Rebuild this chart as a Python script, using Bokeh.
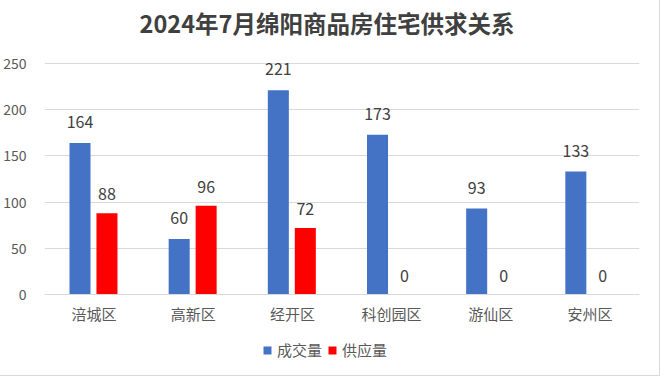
from bokeh.plotting import figure
from bokeh.models import ColumnDataSource, FactorRange, Legend, LegendItem, FixedTicker, Range1d
from bokeh.transform import dodge
from bokeh.core.properties import value
from bokeh.embed import file_html
from bokeh.resources import INLINE

categories = ["涪城区", "高新区", "经开区", "科创园区", "游仙区", "安州区"]
deals = [164, 60, 221, 173, 93, 133]
supply = [88, 96, 72, 0, 0, 0]
series_names = ["成交量", "供应量"]
title_text = "2024年7月绵阳商品房住宅供求关系"
y_ticks = [0, 50, 100, 150, 200, 250]

FONT = "Noto Sans CJK SC"
BLUE = "#4472C4"
RED = "#FF0000"

src = ColumnDataSource(dict(cat=categories, deals=deals, supply=supply,
                            deals_s=[str(v) for v in deals],
                            supply_s=[str(v) for v in supply]))

# layout in pixels: value axis 0..250 spans 231 px; frame extends 59 px above
# (title area) and 74 px below (axis labels and legend)
PX_PER_UNIT = 231 / 250
y_top = y_ticks[-1] + 59 / PX_PER_UNIT
y_bottom = -74 / PX_PER_UNIT
title_y = y_ticks[-1] + 41 / PX_PER_UNIT

p = figure(x_range=FactorRange(*categories, range_padding=0), y_range=Range1d(y_bottom, y_top),
           frame_width=595, frame_height=364, output_backend="svg", toolbar_location=None,
           min_border_left=44, min_border_right=18, min_border_top=4, min_border_bottom=5,
           stylesheets=[":host { outline: 1px solid #d9d9d9; outline-offset: 2px; }"])

r1 = p.vbar(x=dodge("cat", -0.142, range=p.x_range), top="deals", width=0.212, source=src,
            color=BLUE, line_color=None)
r2 = p.vbar(x=dodge("cat", 0.130, range=p.x_range), top="supply", width=0.212, source=src,
            color=RED, line_color=None)

p.text(x=dodge("cat", -0.142, range=p.x_range), y="deals", text="deals_s", source=src,
       text_align="center", text_baseline="middle", y_offset=-21,
       text_font=value(FONT), text_font_size="16px", text_color="#404040")
p.text(x=dodge("cat", 0.130, range=p.x_range), y="supply", text="supply_s", source=src,
       text_align="center", text_baseline="middle", y_offset=-19,
       text_font=value(FONT), text_font_size="16px", text_color="#404040")

# chart title, centred on the chart box
p.text(x=[len(categories) / 2], y=[title_y], text=[title_text], x_offset=-15,
       text_align="center", text_baseline="middle",
       text_font=value(FONT), text_font_size="23.5px", text_font_style="bold",
       text_color="#404040")

p.outline_line_color = None
p.background_fill_color = "white"
p.border_fill_color = "white"

p.xgrid.grid_line_color = None
p.ygrid.grid_line_color = "#d9d9d9"
p.ygrid.ticker = FixedTicker(ticks=y_ticks)
p.yaxis.ticker = FixedTicker(ticks=y_ticks)
p.yaxis.axis_line_color = None
p.yaxis.major_tick_line_color = None
p.yaxis.minor_tick_line_color = None
p.yaxis.major_label_text_font = FONT
p.yaxis.major_label_text_font_size = "14px"
p.yaxis.major_label_text_color = "#595959"
p.yaxis.major_label_standoff = 12

p.xaxis.fixed_location = 0
p.xaxis.axis_line_color = "#d9d9d9"
p.xaxis.major_tick_line_color = None
p.xaxis.minor_tick_line_color = None
p.xaxis.major_label_text_font = FONT
p.xaxis.major_label_text_font_size = "15px"
p.xaxis.major_label_text_color = "#595959"
p.xaxis.major_label_standoff = 2

legend = Legend(items=[LegendItem(label=series_names[0], renderers=[r1]),
                       LegendItem(label=series_names[1], renderers=[r2])],
                orientation="horizontal", location=(218, 8),
                label_text_font=FONT, label_text_font_size="15px", label_text_color="#595959",
                glyph_width=10, glyph_height=10, label_standoff=5, spacing=5,
                border_line_color=None, background_fill_alpha=0, padding=0, margin=0)
p.add_layout(legend, "center")

open("out.html", "w").write(file_html(p, INLINE))
